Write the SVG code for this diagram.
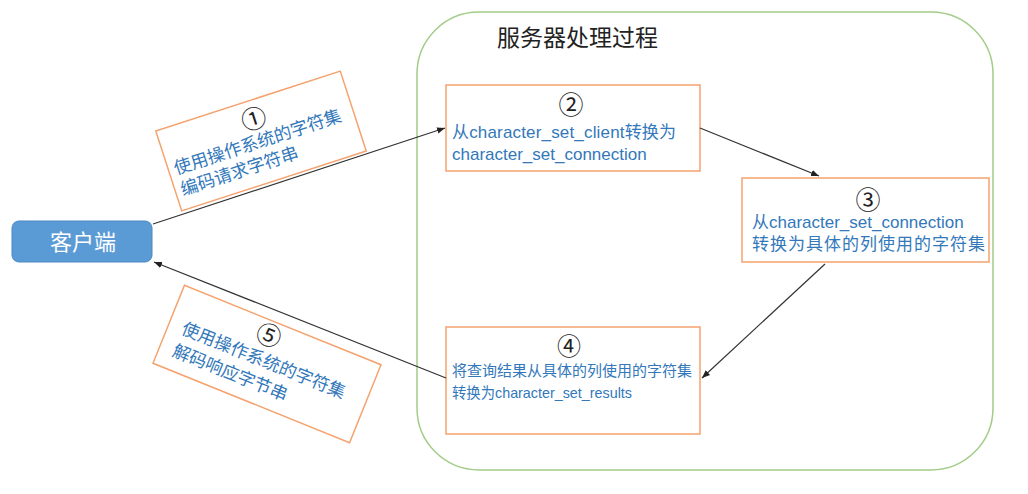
<svg xmlns="http://www.w3.org/2000/svg" width="1028" height="494" viewBox="0 0 1028 494">
<defs>
<marker id="ah" viewBox="0 0 10 10" refX="10" refY="5" markerWidth="8" markerHeight="8" markerUnits="userSpaceOnUse" orient="auto">
<path d="M0,1 L10,5 L0,9 Z" fill="#222"/>
</marker>
<style>
.box{fill:#fff;stroke:#F5A26E;stroke-width:1.5}
.t{font-family:"Liberation Sans","Noto Sans CJK SC",sans-serif;fill:#3278BA}
.num{font-family:"Noto Sans CJK SC","DejaVu Sans",sans-serif;fill:#222;text-anchor:middle}
.edge{stroke:#333;stroke-width:1.2;fill:none;marker-end:url(#ah)}
</style>
</defs>
<rect width="1028" height="494" fill="#fff"/>
<g id="server">
<rect x="417" y="12" width="576" height="458" rx="62" ry="62" fill="none" stroke="#A3CC88" stroke-width="1.5"/>
<text x="497" y="46" font-family="Noto Sans CJK SC, sans-serif" font-size="23" fill="#222">服务器处理过程</text>
</g>
<g id="client">
<rect x="12" y="221" width="140" height="41" rx="7" ry="7" fill="#5B9BD5" stroke="#4A88C4" stroke-width="1"/>
<text x="83" y="250" text-anchor="middle" font-family="Noto Sans CJK SC, sans-serif" font-size="22" fill="#fff">客户端</text>
</g>
<g id="step1" transform="translate(261,141) rotate(-18)">
<rect class="box" x="-97" y="-42" width="194" height="84"/>
<text class="num" x="0" y="-14" font-size="25">①</text>
<text class="t" x="-91" y="6" font-size="17.5">使用操作系统的字符集</text>
<text class="t" x="-91" y="28" font-size="17.5">编码请求字符串</text>
</g>
<g id="step2">
<rect class="box" x="446" y="85" width="254" height="86"/>
<text class="num" x="571" y="114" font-size="25">②</text>
<text class="t" x="452" y="138" font-size="17" textLength="224" lengthAdjust="spacing">从character_set_client转换为</text>
<text class="t" x="452" y="160" font-size="17">character_set_connection</text>
</g>
<g id="step3">
<rect class="box" x="742" y="178" width="247" height="84"/>
<text class="num" x="868" y="209" font-size="25">③</text>
<text class="t" x="752" y="228" font-size="17">从character_set_connection</text>
<text class="t" x="752" y="250" font-size="17" textLength="233" lengthAdjust="spacing">转换为具体的列使用的字符集</text>
</g>
<g id="step4">
<rect class="box" x="446" y="327" width="254" height="107"/>
<text class="num" x="569" y="355" font-size="24">④</text>
<text class="t" x="452" y="376" font-size="15">将查询结果从具体的列使用的字符集</text>
<text class="t" x="452" y="398" font-size="15" textLength="180" lengthAdjust="spacingAndGlyphs">转换为character_set_results</text>
</g>
<g id="step5" transform="translate(267,364) rotate(22)">
<rect class="box" x="-106" y="-42" width="212" height="84"/>
<text class="num" x="-9" y="-18" font-size="25">⑤</text>
<text class="t" x="-92" y="4" font-size="17.5">使用操作系统的字符集</text>
<text class="t" x="-92" y="28" font-size="17.5">解码响应字节串</text>
</g>
<g id="connectors">
<line class="edge" x1="153" y1="224" x2="445" y2="128"/>
<line class="edge" x1="700" y1="128" x2="819" y2="176"/>
<line class="edge" x1="825" y1="264" x2="702" y2="378"/>
<line class="edge" x1="446" y1="378" x2="154" y2="262"/>
</g>
</svg>
